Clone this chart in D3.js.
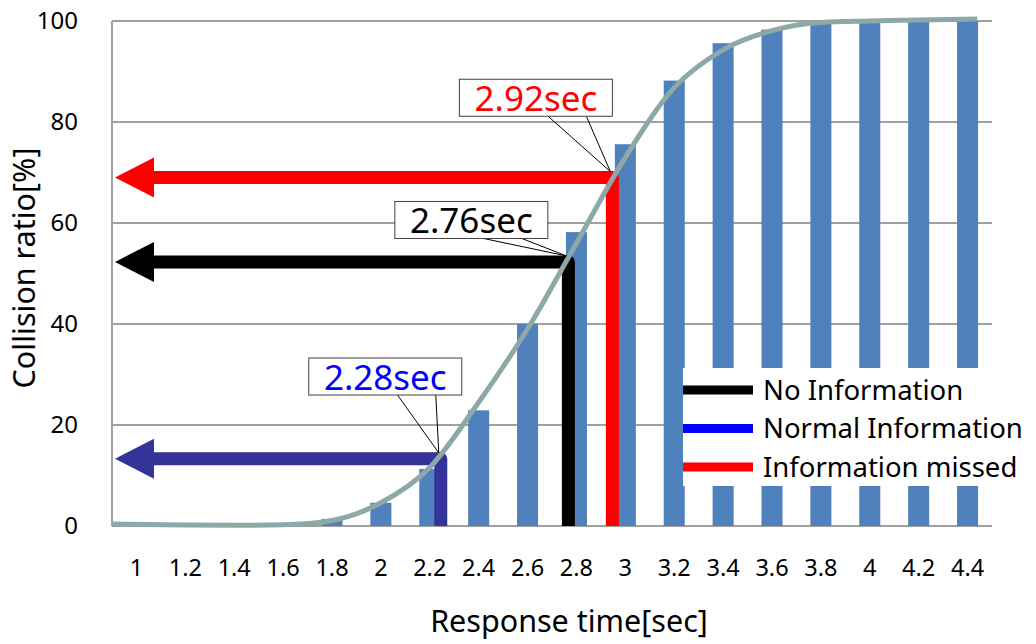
<!DOCTYPE html>
<html lang="en">
<head>
    <meta charset="UTF-8">
    <title>Collision ratio vs response time</title>
    <script src="https://d3js.org/d3.v7.min.js"></script>
    <style>
        body { margin: 0; background: #fff; }
        text { font-family: "Noto Sans", "DejaVu Sans", sans-serif; }
    </style>
</head>
<body>
    <script>
        // data
        const categories = ["1", "1.2", "1.4", "1.6", "1.8", "2", "2.2", "2.4", "2.6", "2.8",
                            "3", "3.2", "3.4", "3.6", "3.8", "4", "4.2", "4.4"];
        const collisionRatio = [0, 0, 0, 0, 1.4, 4.6, 11.3, 22.9, 40, 58.2,
                                75.6, 88.2, 95.6, 98.3, 99.8, 100, 100, 100];

        // fitted curve (time in sec, ratio in %)
        const curveTime  = [0.9, 1.2, 1.4, 1.6, 1.8, 2.0, 2.2, 2.4, 2.6, 2.8, 3.0, 3.2, 3.4, 3.6, 3.8, 4.0, 4.2, 4.44];
        const curveRatio = [0.4, 0.2, 0.15, 0.25, 1.1, 4.6, 11.6, 24.5, 39, 56, 73, 86.8, 94.3, 98.1, 99.7, 100, 100.2, 100.4];

        // the three response-time markers
        const markerLabel = ["2.76sec", "2.28sec", "2.92sec"];
        const markerTime  = [2.767, 2.245, 2.947];
        const markerRatio = [52.3, 13.3, 69];
        // callout box centres, in data units
        const calloutTime  = [2.37, 2.018, 2.634];
        const calloutRatio = [60.6, 29.6, 84.8];

        const legendLabels = ["No Information", "Normal Information", "Information missed"];
        const yTicks = [0, 20, 40, 60, 80, 100];

        const markerColor = ["#000000", "#333399", "#ff0000"];
        const markerTextColor = ["#000000", "#0000ff", "#ff0000"];
        const legendColor = ["#000000", "#0000ff", "#ff0000"];

        const w = 1036, h = 644;
        const plotLeft = 112, plotRight = 992, plotTop = 21, plotBottom = 526;

        const svg = d3.select("body").append("svg")
            .attr("width", w)
            .attr("height", h);

        const x = d3.scaleBand()
            .domain(categories)
            .range([plotLeft, plotRight])
            .paddingInner(0.57)
            .paddingOuter(0.285);

        const y = d3.scaleLinear()
            .domain([0, 100])
            .range([plotBottom, plotTop]);

        const xt = d3.scaleLinear()
            .domain([1, 4.4])
            .range([x("1") + x.bandwidth() / 2, x("4.4") + x.bandwidth() / 2]);

        // gridlines
        svg.append("g")
            .selectAll("line")
            .data(yTicks)
            .join("line")
            .attr("x1", plotLeft)
            .attr("x2", plotRight)
            .attr("y1", d => y(d))
            .attr("y2", d => y(d))
            .attr("stroke", "#a0a0a0")
            .attr("stroke-width", 2);

        svg.append("line")
            .attr("x1", plotLeft).attr("x2", plotLeft)
            .attr("y1", y(100)).attr("y2", y(0))
            .attr("stroke", "#a0a0a0")
            .attr("stroke-width", 2);

        // y tick labels
        svg.append("g")
            .selectAll("text")
            .data(yTicks)
            .join("text")
            .attr("x", 78)
            .attr("y", d => y(d))
            .attr("dy", "0.35em")
            .attr("text-anchor", "end")
            .attr("font-size", 24)
            .text(d => d);

        // x tick labels
        svg.append("g")
            .selectAll("text")
            .data(categories)
            .join("text")
            .attr("x", d => x(d) + x.bandwidth() / 2)
            .attr("y", 576)
            .attr("text-anchor", "middle")
            .attr("font-size", 23.5)
            .text(d => d);

        // bars
        svg.append("g")
            .selectAll("rect")
            .data(categories)
            .join("rect")
            .attr("x", d => x(d))
            .attr("width", x.bandwidth())
            .attr("y", (d, i) => y(collisionRatio[i]))
            .attr("height", (d, i) => y(0) - y(collisionRatio[i]))
            .attr("fill", "#4f81bd");

        // legend background box covers part of the bars
        const legend = svg.append("g").attr("transform", "translate(683,368)");
        legend.append("rect")
            .attr("width", 353)
            .attr("height", 118)
            .attr("fill", "#fff");

        const item = legend.selectAll("g")
            .data(legendLabels)
            .join("g")
            .attr("transform", (d, i) => `translate(0,${22 + i * 38.5})`);
        item.append("line")
            .attr("x1", 0).attr("x2", 70)
            .attr("stroke", (d, i) => legendColor[i])
            .attr("stroke-width", 9);
        item.append("text")
            .attr("x", 80)
            .attr("dy", "0.36em")
            .attr("font-size", 27.5)
            .text(d => d);

        // arrows
        const arrows = svg.append("g");
        markerLabel.forEach((lab, i) => {
            const cx = xt(markerTime[i]);
            const cy = y(markerRatio[i]);
            const headTip = plotLeft + 3, headBase = plotLeft + 42;
            arrows.append("path")
                .attr("d", `M${cx},${y(0)}L${cx},${cy}L${headBase},${cy}`)
                .attr("fill", "none")
                .attr("stroke", markerColor[i])
                .attr("stroke-width", 13)
                .attr("stroke-linejoin", "round");
            arrows.append("path")
                .attr("d", `M${headTip},${cy}L${headBase},${cy - 20}L${headBase},${cy + 20}Z`)
                .attr("fill", markerColor[i]);
        });

        // curve
        const line = d3.line()
            .x((d, i) => xt(d))
            .y((d, i) => y(curveRatio[i]))
            .curve(d3.curveMonotoneX);

        svg.append("path")
            .attr("d", line(curveTime))
            .attr("fill", "none")
            .attr("stroke", "#8ea7a7")
            .attr("stroke-width", 5);

        // callouts
        const bw = 153, bh = 37;
        markerLabel.forEach((lab, i) => {
            const bx = xt(calloutTime[i]) - bw / 2;
            const by = y(calloutRatio[i]) - bh / 2;
            const tx = xt(markerTime[i]) - 2;
            const ty = y(markerRatio[i]) - 6;
            const g = svg.append("g");
            g.append("path")
                .attr("d", `M${bx + bw * 0.58},${by + bh}L${tx},${ty}L${bx + bw * 0.83},${by + bh}`)
                .attr("fill", "none")
                .attr("stroke", "#000")
                .attr("stroke-width", 1);
            g.append("rect")
                .attr("x", bx).attr("y", by)
                .attr("width", bw).attr("height", bh)
                .attr("fill", "#fff")
                .attr("stroke", "#404040")
                .attr("stroke-width", 1);
            g.append("text")
                .attr("x", bx + bw / 2)
                .attr("y", by + bh - 5)
                .attr("text-anchor", "middle")
                .attr("font-size", 35)
                .attr("fill", markerTextColor[i])
                .text(lab);
        });

        // axis titles
        svg.append("text")
            .attr("x", 569)
            .attr("y", 632)
            .attr("text-anchor", "middle")
            .attr("font-size", 30.5)
            .text("Response time[sec]");

        svg.append("text")
            .attr("transform", "translate(35,268) rotate(-90)")
            .attr("text-anchor", "middle")
            .attr("font-size", 30.5)
            .text("Collision ratio[%]");
    </script>
</body>
</html>
